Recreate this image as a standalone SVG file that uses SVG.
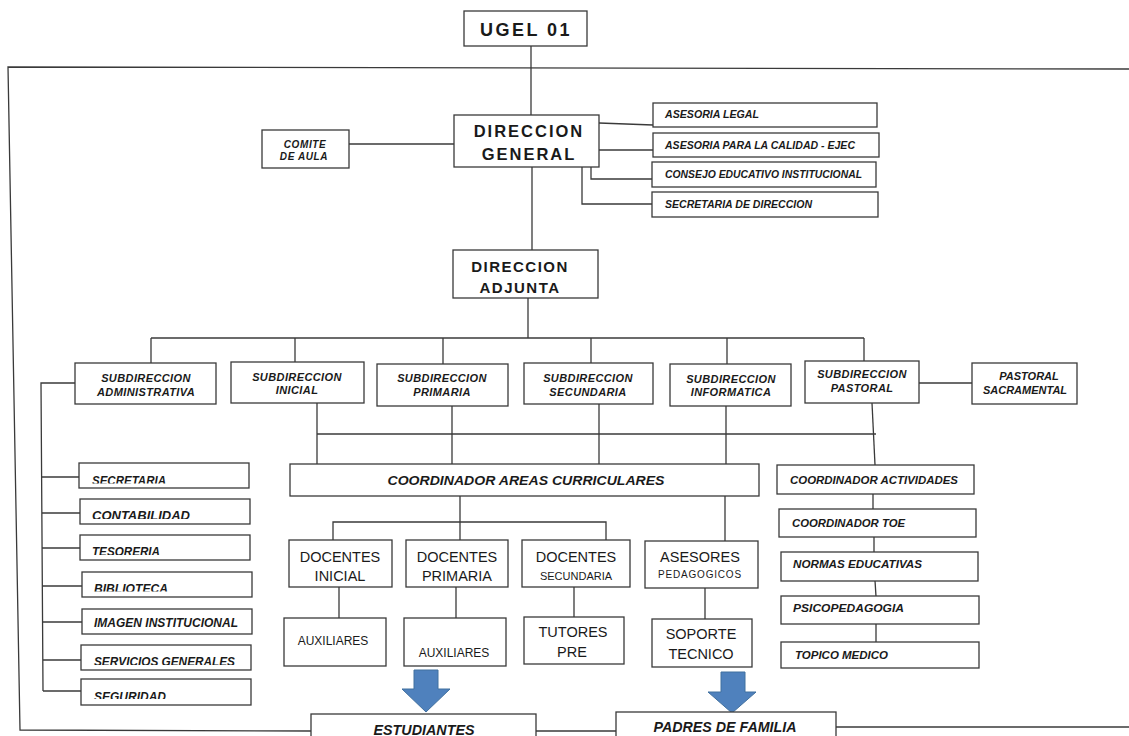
<svg xmlns="http://www.w3.org/2000/svg" width="1129" height="736" viewBox="0 0 1129 736">
<style>
.box{fill:#fff;stroke:#3a3a3a;stroke-width:1.3}
.ln{stroke:#3a3a3a;stroke-width:1.3;fill:none}
.t{font-family:"Liberation Sans",Arial,sans-serif;fill:#1a1a1a}
.b{font-weight:bold}
.bi{font-weight:bold;font-style:italic}
.c{text-anchor:middle}
.arrow{fill:#4f81bd;stroke:#41709f;stroke-width:1}
</style>
<defs>
<clipPath id="k1" clipPathUnits="userSpaceOnUse"><rect x="80" y="464" width="168" height="19.5"/></clipPath>
<clipPath id="k2" clipPathUnits="userSpaceOnUse"><rect x="81" y="500" width="168" height="19"/></clipPath>
<clipPath id="k3" clipPathUnits="userSpaceOnUse"><rect x="81" y="536" width="168" height="19"/></clipPath>
<clipPath id="k4" clipPathUnits="userSpaceOnUse"><rect x="83" y="573" width="168" height="18.5"/></clipPath>
<clipPath id="k6" clipPathUnits="userSpaceOnUse"><rect x="82" y="646" width="168" height="19"/></clipPath>
<clipPath id="k7" clipPathUnits="userSpaceOnUse"><rect x="82" y="680" width="168" height="19"/></clipPath>
</defs>
<rect width="1129" height="736" fill="#fff"/>

<g id="connectors">
  <polyline class="ln" points="1129,69 8,67 20,730 311,731"/>
  <line class="ln" x1="536" y1="731" x2="616" y2="731"/>
  <line class="ln" x1="836" y1="727" x2="1129" y2="727"/>
  <line class="ln" x1="531" y1="46" x2="531" y2="115"/>
  <line class="ln" x1="349" y1="144" x2="454" y2="144"/>
  <line class="ln" x1="599" y1="123" x2="653" y2="125"/>
  <line class="ln" x1="599" y1="150" x2="653" y2="150"/>
  <polyline class="ln" points="591,167 591,179 652,179"/>
  <polyline class="ln" points="582,167 582,204 652,204"/>
  <line class="ln" x1="532" y1="167" x2="532" y2="250"/>
  <line class="ln" x1="528" y1="298" x2="528" y2="338"/>
  <line class="ln" x1="151" y1="338" x2="864" y2="338"/>
  <line class="ln" x1="151" y1="338" x2="151" y2="363"/>
  <line class="ln" x1="295" y1="338" x2="295" y2="362"/>
  <line class="ln" x1="443" y1="338" x2="443" y2="364"/>
  <line class="ln" x1="591" y1="338" x2="591" y2="363"/>
  <line class="ln" x1="727" y1="338" x2="727" y2="364"/>
  <line class="ln" x1="864" y1="338" x2="864" y2="361"/>
  <line class="ln" x1="919" y1="383" x2="972" y2="383"/>
  <polyline class="ln" points="75,383 41,383 43,691"/>
  <line class="ln" x1="42" y1="477" x2="80" y2="477"/>
  <line class="ln" x1="42" y1="513" x2="80" y2="513"/>
  <line class="ln" x1="42" y1="548" x2="80" y2="548"/>
  <line class="ln" x1="42" y1="586" x2="82" y2="586"/>
  <line class="ln" x1="43" y1="622" x2="82" y2="622"/>
  <line class="ln" x1="43" y1="660" x2="81" y2="660"/>
  <line class="ln" x1="43" y1="691" x2="81" y2="691"/>
  <line class="ln" x1="317" y1="403" x2="317" y2="464"/>
  <line class="ln" x1="317" y1="434" x2="876" y2="434"/>
  <line class="ln" x1="452" y1="406" x2="452" y2="464"/>
  <line class="ln" x1="599" y1="404" x2="599" y2="464"/>
  <line class="ln" x1="726" y1="406" x2="726" y2="464"/>
  <line class="ln" x1="872" y1="403" x2="875" y2="465"/>
  <polyline class="ln" points="460,496 460,522"/>
  <polyline class="ln" points="333,540 333,522 606,522 606,540"/>
  <line class="ln" x1="460" y1="522" x2="460" y2="540"/>
  <line class="ln" x1="725" y1="496" x2="725" y2="541"/>
  <line class="ln" x1="339" y1="587" x2="339" y2="618"/>
  <line class="ln" x1="456" y1="587" x2="456" y2="618"/>
  <line class="ln" x1="574" y1="587" x2="574" y2="617"/>
  <line class="ln" x1="705" y1="588" x2="705" y2="619"/>
  <line class="ln" x1="873" y1="494" x2="873" y2="509"/>
  <line class="ln" x1="874" y1="537" x2="874" y2="552"/>
  <line class="ln" x1="875" y1="581" x2="876" y2="596"/>
  <line class="ln" x1="876" y1="624" x2="876" y2="642"/>
  <polygon class="arrow" points="414,670 438,670 438,689 450,689 426,712 402,689 414,689"/>
  <polygon class="arrow" points="721,672 745,672 745,692 756,692 732,713 708,692 721,692"/>
</g>

<g id="ugel"><rect class="box" x="464" y="11" width="123" height="35"/><text class="t b c" x="526" y="36" font-size="18" letter-spacing="2.5">UGEL 01</text></g>
<g id="dir-general"><rect class="box" x="454" y="115" width="145" height="52"/><text class="t b c" font-size="16.5" letter-spacing="2"><tspan x="529" y="137">DIRECCION</tspan><tspan x="529" y="160">GENERAL</tspan></text></g>
<g id="comite"><rect class="box" x="262" y="130" width="87" height="38"/><text class="t bi c" font-size="10" letter-spacing="0.6"><tspan x="305" y="148">COMITE</tspan><tspan x="304" y="160">DE AULA</tspan></text></g>
<g id="asesoria-legal"><rect class="box" x="653" y="103" width="224" height="24"/><text class="t bi" x="665" y="118" font-size="10.5" textLength="94" lengthAdjust="spacingAndGlyphs">ASESORIA LEGAL</text></g>
<g id="asesoria-calidad"><rect class="box" x="653" y="133" width="226" height="24"/><text class="t bi" x="665" y="149" font-size="10.5" textLength="190" lengthAdjust="spacingAndGlyphs">ASESORIA PARA LA CALIDAD - EJEC</text></g>
<g id="consejo"><rect class="box" x="652" y="162" width="224" height="25"/><text class="t bi" x="665" y="178" font-size="10.5" textLength="197" lengthAdjust="spacingAndGlyphs">CONSEJO EDUCATIVO INSTITUCIONAL</text></g>
<g id="secretaria-direccion"><rect class="box" x="652" y="192" width="226" height="25"/><text class="t bi" x="665" y="208" font-size="10.5" textLength="147" lengthAdjust="spacingAndGlyphs">SECRETARIA DE DIRECCION</text></g>
<g id="dir-adjunta"><rect class="box" x="453" y="250" width="145" height="48"/><text class="t b c" font-size="15" letter-spacing="1.5"><tspan x="520" y="272">DIRECCION</tspan><tspan x="520" y="293">ADJUNTA</tspan></text></g>

<g id="sub-admin"><rect class="box" x="75" y="363" width="141" height="41"/><text class="t bi c" font-size="11" letter-spacing="0.4"><tspan x="146" y="382">SUBDIRECCION</tspan><tspan x="146" y="396">ADMINISTRATIVA</tspan></text></g>
<g id="sub-inicial"><rect class="box" x="231" y="362" width="133" height="41"/><text class="t bi c" font-size="11" letter-spacing="0.4"><tspan x="297" y="381">SUBDIRECCION</tspan><tspan x="297" y="394">INICIAL</tspan></text></g>
<g id="sub-primaria"><rect class="box" x="377" y="364" width="131" height="42"/><text class="t bi c" font-size="11" letter-spacing="0.4"><tspan x="442" y="382">SUBDIRECCION</tspan><tspan x="442" y="396">PRIMARIA</tspan></text></g>
<g id="sub-secundaria"><rect class="box" x="524" y="363" width="129" height="41"/><text class="t bi c" font-size="11" letter-spacing="0.4"><tspan x="588" y="382">SUBDIRECCION</tspan><tspan x="588" y="396">SECUNDARIA</tspan></text></g>
<g id="sub-informatica"><rect class="box" x="670" y="364" width="121" height="42"/><text class="t bi c" font-size="11" letter-spacing="0.4"><tspan x="731" y="383">SUBDIRECCION</tspan><tspan x="731" y="396">INFORMATICA</tspan></text></g>
<g id="sub-pastoral"><rect class="box" x="805" y="361" width="114" height="42"/><text class="t bi c" font-size="11" letter-spacing="0.4"><tspan x="862" y="378">SUBDIRECCION</tspan><tspan x="862" y="392">PASTORAL</tspan></text></g>
<g id="pastoral-sacramental"><rect class="box" x="972" y="363" width="105" height="41"/><text class="t bi c" font-size="11"><tspan x="1029" y="380">PASTORAL</tspan><tspan x="1025" y="394">SACRAMENTAL</tspan></text></g>

<g id="secretaria"><rect class="box" x="79" y="463" width="170" height="25"/><text class="t bi" x="92" y="485" font-size="13" textLength="74" lengthAdjust="spacingAndGlyphs" clip-path="url(#k1)">SECRETARIA</text></g>
<g id="contabilidad"><rect class="box" x="80" y="499" width="170" height="25"/><text class="t bi" x="92" y="520" font-size="13" textLength="98" lengthAdjust="spacingAndGlyphs" clip-path="url(#k2)">CONTABILIDAD</text></g>
<g id="tesoreria"><rect class="box" x="80" y="535" width="170" height="25"/><text class="t bi" x="92" y="556" font-size="13" textLength="68" lengthAdjust="spacingAndGlyphs" clip-path="url(#k3)">TESORERIA</text></g>
<g id="biblioteca"><rect class="box" x="82" y="572" width="170" height="25"/><text class="t bi" x="94" y="593" font-size="13" textLength="74" lengthAdjust="spacingAndGlyphs" clip-path="url(#k4)">BIBLIOTECA</text></g>
<g id="imagen"><rect class="box" x="82" y="609" width="170" height="25"/><text class="t bi" x="94" y="627" font-size="12" textLength="144" lengthAdjust="spacingAndGlyphs">IMAGEN INSTITUCIONAL</text></g>
<g id="servicios"><rect class="box" x="81" y="645" width="170" height="25"/><text class="t bi" x="94" y="666" font-size="13" textLength="141" lengthAdjust="spacingAndGlyphs" clip-path="url(#k6)">SERVICIOS GENERALES</text></g>
<g id="seguridad"><rect class="box" x="81" y="679" width="170" height="26"/><text class="t bi" x="94" y="701" font-size="13" textLength="72" lengthAdjust="spacingAndGlyphs" clip-path="url(#k7)">SEGURIDAD</text></g>

<g id="coord-areas"><rect class="box" x="290" y="464" width="469" height="32"/><text class="t bi c" x="526" y="485" font-size="13.5" textLength="277" lengthAdjust="spacingAndGlyphs">COORDINADOR AREAS CURRICULARES</text></g>
<g id="doc-inicial"><rect class="box" x="289" y="540" width="103" height="47"/><text class="t c" font-size="14.5"><tspan x="340" y="562">DOCENTES</tspan><tspan x="340" y="581">INICIAL</tspan></text></g>
<g id="doc-primaria"><rect class="box" x="406" y="540" width="102" height="47"/><text class="t c" font-size="14.5"><tspan x="457" y="562">DOCENTES</tspan><tspan x="457" y="581">PRIMARIA</tspan></text></g>
<g id="doc-secundaria"><rect class="box" x="522" y="540" width="108" height="47"/><text class="t c"><tspan x="576" y="562" font-size="14.5">DOCENTES</tspan><tspan x="576" y="580" font-size="11">SECUNDARIA</tspan></text></g>
<g id="asesores"><rect class="box" x="645" y="541" width="113" height="47"/><text class="t c"><tspan x="700" y="562" font-size="14.5">ASESORES</tspan><tspan x="700" y="578" font-size="10" letter-spacing="0.8">PEDAGOGICOS</tspan></text></g>
<g id="auxiliares-1"><rect class="box" x="284" y="618" width="102" height="48"/><text class="t c" x="333" y="645" font-size="12">AUXILIARES</text></g>
<g id="auxiliares-2"><rect class="box" x="404" y="618" width="102" height="48"/><text class="t c" x="454" y="657" font-size="12">AUXILIARES</text></g>
<g id="tutores"><rect class="box" x="524" y="617" width="100" height="47"/><text class="t c" font-size="14.5"><tspan x="573" y="637">TUTORES</tspan><tspan x="572" y="657">PRE</tspan></text></g>
<g id="soporte"><rect class="box" x="652" y="619" width="100" height="48"/><text class="t c" font-size="14.5"><tspan x="701" y="639">SOPORTE</tspan><tspan x="701" y="659">TECNICO</tspan></text></g>

<g id="coord-actividades"><rect class="box" x="777" y="465" width="197" height="29"/><text class="t bi" x="790" y="484" font-size="11" textLength="168" lengthAdjust="spacingAndGlyphs">COORDINADOR ACTIVIDADES</text></g>
<g id="coord-toe"><rect class="box" x="779" y="509" width="197" height="28"/><text class="t bi" x="792" y="527" font-size="11" textLength="113" lengthAdjust="spacingAndGlyphs">COORDINADOR TOE</text></g>
<g id="normas"><rect class="box" x="781" y="552" width="197" height="29"/><text class="t bi" x="793" y="568" font-size="11" textLength="129" lengthAdjust="spacingAndGlyphs">NORMAS EDUCATIVAS</text></g>
<g id="psico"><rect class="box" x="781" y="596" width="198" height="28"/><text class="t bi" x="793" y="612" font-size="11" textLength="111" lengthAdjust="spacingAndGlyphs">PSICOPEDAGOGIA</text></g>
<g id="topico"><rect class="box" x="781" y="642" width="198" height="26"/><text class="t bi" x="795" y="659" font-size="11" textLength="93" lengthAdjust="spacingAndGlyphs">TOPICO MEDICO</text></g>

<g id="estudiantes"><rect class="box" x="311" y="714" width="225" height="30"/><text class="t bi c" x="424" y="735" font-size="14" textLength="101" lengthAdjust="spacingAndGlyphs">ESTUDIANTES</text></g>
<g id="padres"><rect class="box" x="616" y="712" width="220" height="30"/><text class="t bi c" x="725" y="732" font-size="14" textLength="143" lengthAdjust="spacingAndGlyphs">PADRES DE FAMILIA</text></g>
</svg>
